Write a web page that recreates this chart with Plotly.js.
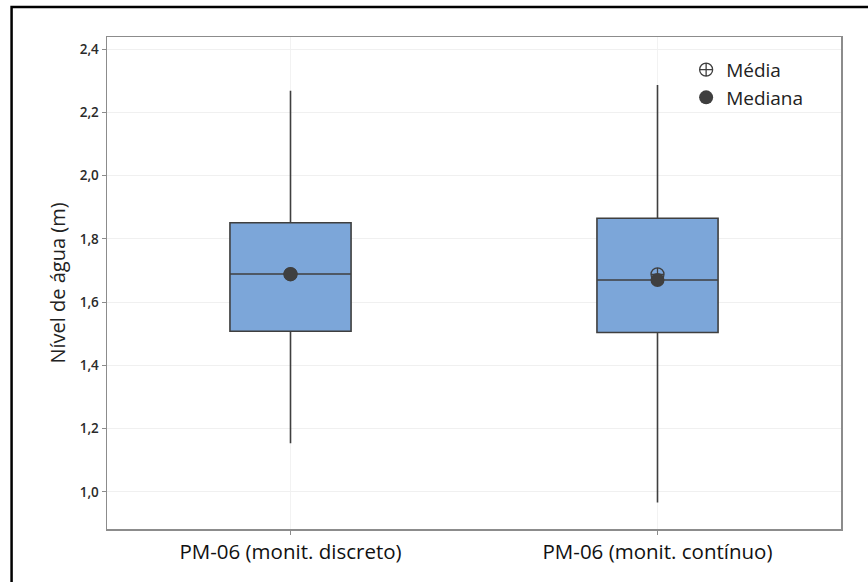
<!DOCTYPE html>
<html>
<head>
<meta charset="utf-8">
<script src="https://cdn.plot.ly/plotly-3.0.1.min.js"></script>
<style>html,body{margin:0;padding:0;background:#fff;}#chart{width:868px;height:582px;}</style>
</head>
<body>
<div id="chart"></div>
<script>
const categories = ['PM-06 (monit. discreto)', 'PM-06 (monit. contínuo)'];
const q1Values = [1.508, 1.504];
const medianValues = [1.689, 1.670];
const q3Values = [1.851, 1.865];
const lowerWhisker = [1.154, 0.967];
const upperWhisker = [2.268, 2.286];
const meanValues = [1.688, 1.688];
const yTicks = [1.0, 1.2, 1.4, 1.6, 1.8, 2.0, 2.2, 2.4];

const traces = [
  {
    type: 'box', x: categories, q1: q1Values, median: medianValues, q3: q3Values,
    lowerfence: lowerWhisker, upperfence: upperWhisker,
    fillcolor: '#7ca6d9', line: {color: '#3f3f3f', width: 1.6},
    width: 0.33, whiskerwidth: 0, boxpoints: false, showlegend: false, hoverinfo: 'skip'
  },
  {
    type: 'scatter', mode: 'markers', name: 'Média', x: categories, y: meanValues,
    marker: {symbol: 'circle-cross-open', size: 13, color: '#3f3f3f', line: {width: 1.3}}
  },
  {
    type: 'scatter', mode: 'markers', name: 'Mediana', x: categories, y: medianValues,
    marker: {symbol: 'circle', size: 14, color: '#3f3f3f'}
  }
];

const layout = {
  width: 868, height: 582,
  margin: {l: 107, r: 27, t: 37, b: 53},
  paper_bgcolor: '#fff', plot_bgcolor: '#fff',
  separators: ',.',
  font: {family: 'Open Sans, Noto Sans, sans-serif', color: '#222'},
  xaxis: {
    type: 'category', range: [-0.5, 1.5],
    showline: true, mirror: true, linecolor: '#8c8c8c', linewidth: 1.5,
    ticks: 'outside', ticklen: 4, tickcolor: '#8c8c8c',
    showgrid: true, gridcolor: '#f2f2f2', gridwidth: 1,
    tickfont: {size: 20.5, color: '#111'}, zeroline: false
  },
  yaxis: {
    range: [0.883, 2.438],
    tickvals: yTicks, tickformat: '.1f',
    showline: true, mirror: true, linecolor: '#8c8c8c', linewidth: 1.5,
    ticks: 'outside', ticklen: 4, tickcolor: '#8c8c8c',
    showgrid: true, gridcolor: '#f0f0f0', gridwidth: 1, zeroline: false,
    tickfont: {size: 13.5, color: '#2a2a2a', weight: 600},
    title: {text: 'Nível de água (m)', font: {size: 20, color: '#222'}, standoff: 8}
  },
  legend: {
    x: 0.789, y: 0.972, xanchor: 'left', yanchor: 'top',
    bgcolor: 'rgba(0,0,0,0)', font: {size: 19, color: '#222'},
    itemwidth: 30, tracegroupgap: 0
  },
  shapes: [
    {type: 'path', xref: 'paper', yref: 'paper',
     path: 'M -0.130,-0.12 L -0.130,1.061 L 1.05,1.061',
     line: {color: '#000', width: 2.5}}
  ]
};

Plotly.newPlot('chart', traces, layout, {displayModeBar: false, staticPlot: true});
</script>
</body>
</html>
